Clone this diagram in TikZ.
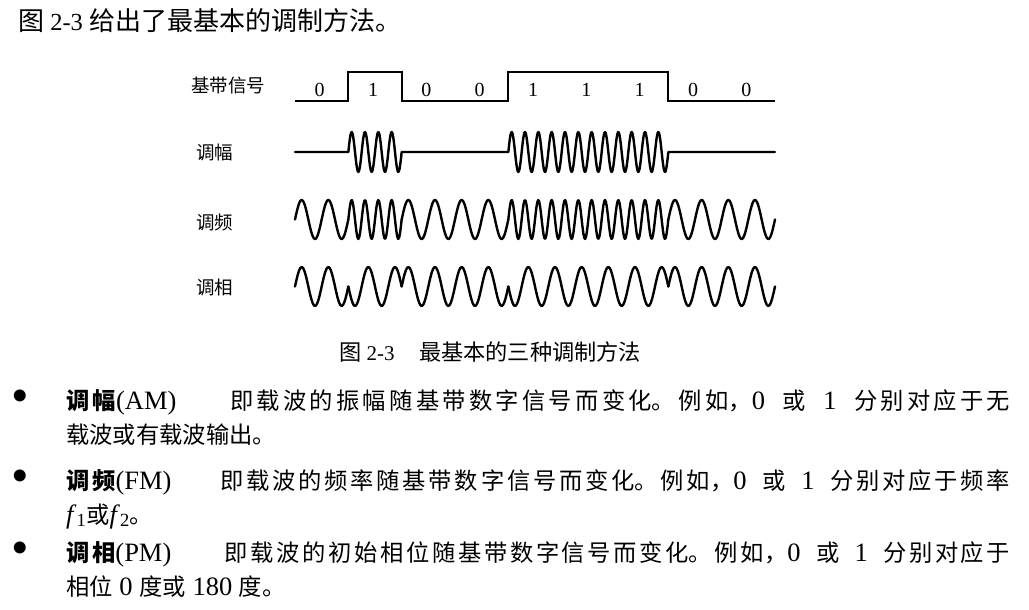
\documentclass[tikz,border=0pt]{standalone}
\usepackage{fontspec}
\setmainfont{Liberation Serif}
\newfontfamily\cjk{Noto Sans CJK SC}
\newfontfamily\lat{Liberation Serif}
\newcommand\en{\lat\fontsize{26.5}{34}\selectfont}
\XeTeXlinebreaklocale "zh"
\XeTeXlinebreakskip = 0pt plus 1pt

\tikzset{
  wave/.style={line width=2.4pt,line join=round,line cap=round},
  siglabel/.style={anchor=west,inner sep=0pt,font=\cjk\fontsize{18.5}{22}\selectfont},
  digit/.style={inner sep=0pt,font=\lat\fontsize{20}{24}\selectfont},
  para/.style={anchor=base west,inner sep=0pt,text width=944pt,align=justify,
    font=\cjk\fontsize{23.3}{34}\selectfont},
  dot/.style={inner sep=0pt,font=\lat\fontsize{50}{50}\selectfont}
}

\begin{document}
\begin{tikzpicture}[x=1pt,y=-1pt]
  \useasboundingbox (0,0) rectangle (1029,610);

  % text above the figure
  \node[anchor=base west,inner sep=0pt,font=\cjk\fontsize{26}{30}\selectfont] (intro) at (18,31)
    {图{\lat\fontsize{24.5}{30}\selectfont\ 2-3 }给出了最基本的调制方法。};

  % signal names
  \node[siglabel] (base) at (191,85) {基带信号};
  \node[siglabel] (am) at (196,152) {调幅};
  \node[siglabel] (fm) at (196,222) {调频};
  \node[siglabel] (pm) at (196,287) {调相};

  % baseband signal
  \draw[line width=2pt] (295,101) -| (348.333,72) -| (401.667,101)
    -| (508.333,72) -| (668.333,101) -- (775,101);
  \foreach \b [count=\i from 0] in {0,1,0,0,1,1,1,0,0}
    \node[digit] (d\i) at ({295+53.333*(\i+0.5)-2},90) {\b};

  % AM
  \draw[wave] (295,152) -- (348.333,152)
    -- plot[domain=348.333:401.667,samples=80] (\x,{152-20*sin(27*(\x-348.333))})
    -- (508.333,152)
    -- plot[domain=508.333:668.333,samples=240] (\x,{152-20*sin(27*(\x-508.333))})
    -- (775,152);

  % FM and PM, bit by bit
  \foreach \b [count=\i from 0] in {0,1,0,0,1,1,1,0,0} {
    \pgfmathsetmacro\xs{295+53.333*\i}
    \pgfmathsetmacro\xe{\xs+53.333}
    \pgfmathsetmacro\nc{\b==1 ? 4 : 2}
    \pgfmathsetmacro\sg{\b==1 ? -1 : 1}
    \draw[wave] plot[domain=\xs:\xe,samples=60] (\x,{219.5-19.5*sin(6.75*\nc*(\x-\xs))});
    \draw[wave] plot[domain=\xs:\xe,samples=40] (\x,{286.5-19.5*\sg*sin(13.5*(\x-\xs))});
  }

  % caption
  \node[anchor=base west,inner sep=0pt,font=\cjk\fontsize{22.2}{25}\selectfont] (cap) at (339,360)
    {图{\lat\fontsize{21}{25}\selectfont\ 2-3}\hspace{1.1em}最基本的三种调制方法};

  % bullet list
  \node[dot] (b1) at (20,401) {\textbullet};
  \node[para] (p1) at (66,409) {{\bfseries 调幅}{\en (AM)}\hspace{2.3em}即载波的振幅随基带数字信号而变化。例如，{\en 0 }或{\en\ 1 }分别对应于无\linebreak 载波或有载波输出。};
  \node[dot] (b2) at (20,481) {\textbullet};
  \node[para] (p2) at (66,489) {{\bfseries 调频}{\en (FM)}\hspace{2.1em}即载波的频率随基带数字信号而变化。例如，{\en 0 }或{\en\ 1 }分别对应于频率\linebreak {\en\textit{f}\textsubscript{1}}或{\en\textit{f}\textsubscript{2}}。};
  \node[dot] (b3) at (20,553) {\textbullet};
  \node[para] (p3) at (66,561) {{\bfseries 调相}{\en (PM)}\hspace{2.3em}即载波的初始相位随基带数字信号而变化。例如，{\en 0 }或{\en\ 1 }分别对应于\linebreak 相位{\en\ 0 }度或{\en\ 180 }度。};
\end{tikzpicture}
\end{document}
